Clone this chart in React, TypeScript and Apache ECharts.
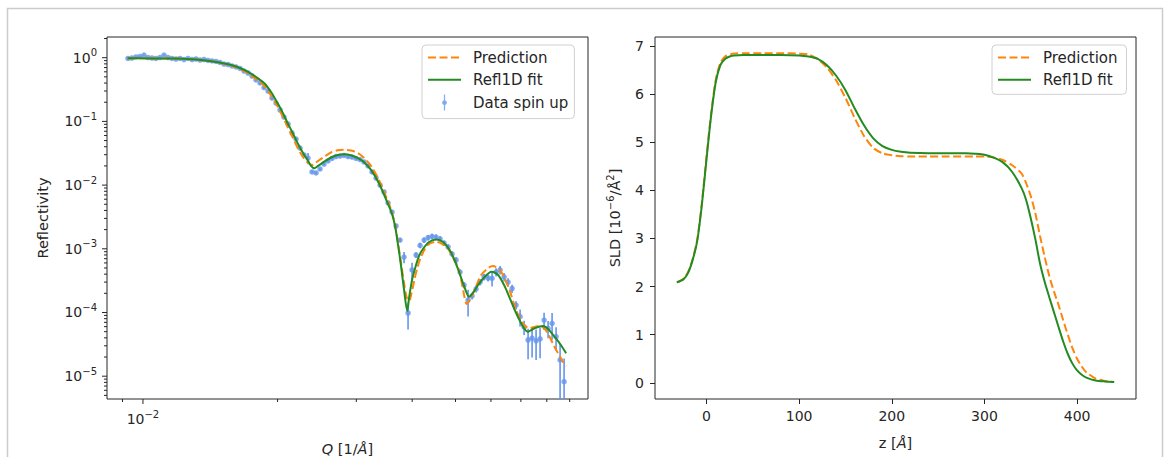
import React, { useEffect, useRef } from 'react';
import * as echarts from 'echarts';

const FONT = 'DejaVu Sans';
const INK = '#262626';
const C_PRED = '#ff850a';
const C_FIT = '#228b22';
const C_DATA = '#6495ed';

// ---------- Reflectivity: measured data (spin up) ----------
const dataQ = [0.009257,0.009450,0.009647,0.009848,0.010053,0.010262,0.010476,0.010694,0.010917,0.011144,0.011376,0.011613,0.011855,0.012102,0.012354,0.012611,0.012873,0.013141,0.013415,0.013694,0.013979,0.014270,0.014567,0.014870,0.015180,0.015496,0.015818,0.016148,0.016484,0.016827,0.017177,0.017535,0.017900,0.018272,0.018653,0.019041,0.019437,0.019842,0.020255,0.020676,0.021107,0.021546,0.021995,0.022452,0.022920,0.023397,0.023884,0.024381,0.024888,0.025406,0.025935,0.026475,0.027026,0.027589,0.028163,0.028749,0.029347,0.029958,0.030582,0.031218,0.031868,0.032531,0.033208,0.033899,0.034605,0.035325,0.036060,0.036811,0.037577,0.038359,0.039157,0.039972,0.040804,0.041654,0.042521,0.043406,0.044309,0.045231,0.046173,0.047134,0.048115,0.049116,0.050138,0.051182,0.052247,0.053335,0.054445,0.055578,0.056735,0.057916,0.059121,0.060352,0.061608,0.062890,0.064199,0.065535,0.066899,0.068292,0.069713,0.071164,0.072645,0.074157,0.075701,0.077276,0.078885,0.080527,0.082203,0.083914,0.085660,0.087443];
const dataR = [0.972,0.989,1.026,1.044,1.102,1.007,0.989,0.972,1.007,1.102,1.007,0.972,0.954,0.972,0.937,0.972,0.937,0.954,0.920,0.937,0.904,0.888,0.872,0.841,0.796,0.782,0.741,0.715,0.677,0.618,0.575,0.516,0.447,0.401,0.340,0.300,0.233,0.194,0.151,0.117,0.0910,0.0658,0.0529,0.0382,0.0297,0.0266,0.0161,0.0155,0.0179,0.0214,0.0239,0.0262,0.0281,0.0286,0.0292,0.0281,0.0276,0.0262,0.0252,0.0231,0.0200,0.0161,0.0129,0.0100,0.00779,0.00524,0.00378,0.00228,0.00137,0.000743,0.0000982,0.000465,0.000799,0.00113,0.00137,0.00150,0.00156,0.00153,0.00143,0.00123,0.00107,0.000829,0.000667,0.000432,0.000270,0.000157,0.000182,0.000234,0.000301,0.000361,0.000348,0.000342,0.000432,0.000465,0.000361,0.000301,0.000238,0.000131,0.0000859,0.0000592,0.0000370,0.0000395,0.0000360,0.0000385,0.0000762,0.0000565,0.0000677,0.0000417,0.0000180,0.0000082];
const dataErr = [0.029,0.030,0.031,0.031,0.033,0.030,0.030,0.029,0.030,0.033,0.030,0.029,0.029,0.029,0.028,0.029,0.028,0.029,0.028,0.028,0.027,0.027,0.026,0.025,0.024,0.023,0.022,0.021,0.020,0.019,
  0.029,0.026,0.022,0.020,0.017,0.015,0.012,0.0097,0.0076,0.0059,0.0046,0.0033,0.0026,0.0019,0.0015,
  0.0053,
  0.0008,0.0008,0.0009,0.0011,0.0012,0.0013,0.0014,0.0014,0.0015,0.0014,0.0014,0.0013,0.0013,0.0012,
  0.0014,0.0011,0.0009,0.0007,0.00055,0.00037,0.00026,0.00016,0.000096,
  0.000149,0.0000442,0.00014,
  0.00008,0.000113,0.000137,0.00015,0.000156,0.000153,0.000143,0.000123,0.000107,0.000083,0.000067,0.000043,
  0.0000324,0.0000707,
  0.0000218,0.0000281,0.0000361,0.0000433,0.0000418,
  0.0000855,
  0.0000648,0.0000698,0.0000542,0.0000452,0.0000357,0.0000197,
  0.0000258,0.0000148,
  0.0000185,0.0000198,0.000018,0.0000193,
  0.0000229,0.000017,0.0000305,0.0000167,0.0000144,0.0000107];

// ---------- Reflectivity: Refl1D fit ----------
const fitQ = [0.00924,0.01042,0.01173,0.01281,0.01348,0.01457,0.01574,0.01657,0.01715,0.01790,0.01868,0.01934,0.02001,0.02056,0.02107,0.02165,0.02218,0.02280,0.02335,0.02376,0.02416,0.02463,0.02544,0.02633,0.02726,0.02823,0.02919,0.03026,0.03115,0.03236,0.03370,0.03527,0.03606,0.03662,0.03719,0.03777,0.03836,0.03900,0.03936,0.03997,0.04062,0.04144,0.04226,0.04363,0.04535,0.04690,0.04850,0.04963,0.05093,0.05225,0.05362,0.05487,0.05616,0.05792,0.06021,0.06226,0.06447,0.06622,0.06891,0.07255,0.07494,0.07838,0.08055,0.08321,0.08568,0.08837];
const fitR = [0.978,0.975,0.968,0.947,0.920,0.856,0.768,0.677,0.603,0.498,0.397,0.289,0.192,0.135,0.0934,0.0646,0.0453,0.0319,0.0248,0.0200,0.0184,0.0200,0.0233,0.0271,0.0297,0.0305,0.0294,0.0266,0.0233,0.0173,0.0107,0.00518,0.00352,0.00228,0.00115,0.000537,0.000226,0.000106,0.000169,0.000324,0.000500,0.000771,0.000993,0.00128,0.00140,0.00128,0.000958,0.000692,0.000432,0.000261,0.000177,0.000210,0.000270,0.000354,0.000437,0.000388,0.000254,0.000163,0.0000859,0.0000499,0.0000561,0.0000614,0.0000551,0.0000417,0.0000320,0.0000229];

// ---------- Reflectivity: prediction ----------
const predQ = [0.00924,0.01042,0.01173,0.01281,0.01348,0.01457,0.01574,0.01657,0.01715,0.01790,0.01868,0.01934,0.02001,0.02056,0.02107,0.02165,0.02218,0.02280,0.02335,0.02394,0.02463,0.02544,0.02633,0.02726,0.02823,0.02919,0.03026,0.03115,0.03236,0.03370,0.03527,0.03606,0.03662,0.03719,0.03777,0.03836,0.03886,0.03936,0.03987,0.04045,0.04112,0.04187,0.04334,0.04524,0.04654,0.04805,0.04925,0.05059,0.05159,0.05234,0.05293,0.05376,0.05465,0.05587,0.05704,0.05904,0.06058,0.06322,0.06599,0.06831,0.07070,0.07315,0.07494,0.07702,0.07870,0.08042,0.08321,0.08524,0.08688,0.08837];
const predR = [0.978,0.975,0.968,0.947,0.920,0.856,0.754,0.653,0.575,0.463,0.360,0.255,0.171,0.117,0.0817,0.0549,0.0382,0.0276,0.0226,0.0207,0.0239,0.0279,0.0325,0.0352,0.0358,0.0349,0.0319,0.0271,0.0200,0.0120,0.00563,0.00365,0.00236,0.00123,0.000598,0.000290,0.000175,0.000152,0.000202,0.000324,0.000518,0.000752,0.00115,0.00129,0.00121,0.00102,0.000743,0.000524,0.000301,0.000177,0.000136,0.000157,0.000195,0.000280,0.000388,0.000494,0.000537,0.000437,0.000226,0.000109,0.0000677,0.0000565,0.0000592,0.0000614,0.0000571,0.0000471,0.0000290,0.0000215,0.0000169,0.0000145];

// ---------- SLD profile ----------
const zValues = [-32,-25,-20,-15,-10,-5,0,5,10,15,20,25,30,40,60,80,100,110,120,130,140,150,160,170,180,190,200,210,220,240,260,280,290,300,310,320,330,340,345,350,355,360,365,370,375,380,385,390,395,400,405,410,420,430,440];
const sldFit = [2.09,2.15,2.28,2.55,2.95,3.70,4.65,5.55,6.25,6.60,6.73,6.78,6.80,6.81,6.81,6.81,6.80,6.78,6.73,6.60,6.38,6.08,5.70,5.35,5.08,4.92,4.84,4.80,4.78,4.77,4.77,4.77,4.76,4.74,4.68,4.58,4.38,4.05,3.80,3.42,2.98,2.48,2.10,1.78,1.47,1.16,0.86,0.60,0.40,0.26,0.17,0.11,0.05,0.03,0.02];
const sldPred = [2.09,2.16,2.30,2.57,2.98,3.74,4.70,5.60,6.30,6.65,6.78,6.82,6.84,6.85,6.85,6.85,6.84,6.82,6.73,6.55,6.28,5.92,5.50,5.13,4.88,4.77,4.73,4.71,4.70,4.70,4.70,4.70,4.70,4.70,4.68,4.63,4.52,4.35,4.15,3.88,3.52,3.05,2.62,2.22,1.90,1.62,1.30,1.00,0.72,0.50,0.34,0.22,0.09,0.04,0.02];

// ---------- ticks ----------
const refYMajor = [1e-5, 1e-4, 1e-3, 1e-2, 1e-1, 1];
const refYMinor = [5e-6,6e-6,7e-6,8e-6,9e-6,2e-5,3e-5,4e-5,5e-5,6e-5,7e-5,8e-5,9e-5,2e-4,3e-4,4e-4,5e-4,6e-4,7e-4,8e-4,9e-4,2e-3,3e-3,4e-3,5e-3,6e-3,7e-3,8e-3,9e-3,0.02,0.03,0.04,0.05,0.06,0.07,0.08,0.09,0.2,0.3,0.4,0.5,0.6,0.7,0.8,0.9,2];
const refXMajor = [0.01];
const refXMinor = [0.009,0.02,0.03,0.04,0.05,0.06,0.07,0.08,0.09];
const sldYTicks = [0,1,2,3,4,5,6,7];
const sldXTicks = [0,100,200,300,400];

const Q_MIN = 0.00831, Q_MAX = 0.0989;
const R_MIN = 4.385e-6, R_MAX = 2.113;
const Z_MIN = -55.6, Z_MAX = 463.6;
const S_MIN = -0.335, S_MAX = 7.185;

const ERR_ICON = 'path://M4.3,0H5.7V18H4.3Z M5,6.3A2.7,2.7 0 1 1 4.99,6.3Z';

function powLabel(v: number): string {
  const l = Math.log10(v);
  const e = Math.round(l);
  if (Math.abs(l - e) > 1e-6) return '';
  const exp = (e < 0 ? '\u2212' : '') + Math.abs(e);
  return `{b|10}{s|${exp}}`;
}

const supRich = {
  b: { fontFamily: FONT, fontSize: 14, color: INK, lineHeight: 20 },
  s: { fontFamily: FONT, fontSize: 10, color: INK, lineHeight: 11, verticalAlign: 'top' },
};

const nameRich = {
  a: { fontFamily: FONT, fontSize: 14.5, color: INK, lineHeight: 20 },
  i: { fontFamily: FONT, fontSize: 14.5, color: INK, lineHeight: 20, fontStyle: 'italic' },
  s: { fontFamily: FONT, fontSize: 10, color: INK, lineHeight: 11, verticalAlign: 'top' },
};

export default function App() {
  const ref = useRef<HTMLDivElement | null>(null);

  useEffect(() => {
    if (!ref.current) return;
    const chart = echarts.init(ref.current, undefined, { renderer: 'svg' });

    const tickItems = [
      ...refYMajor.map((v) => [Q_MIN, v, 0]),
      ...refYMinor.map((v) => [Q_MIN, v, 1]),
      ...refXMajor.map((v) => [v, R_MIN, 2]),
      ...refXMinor.map((v) => [v, R_MIN, 3]),
    ];

    const hideSymbol = { opacity: 0 };

    const legendCommon = {
      orient: 'vertical',
      itemWidth: 33,
      itemHeight: 16,
      itemGap: 7.3,
      selectedMode: false,
      backgroundColor: 'rgba(255,255,255,0.8)',
      borderColor: '#d0d0d0',
      borderWidth: 1,
      borderRadius: 4,
      textStyle: { fontFamily: FONT, fontSize: 15, color: INK, padding: [0, 0, 0, 7] },
    };

    const option: any = {
      animation: false,
      backgroundColor: '#ffffff',
      graphic: [
        {
          type: 'rect',
          silent: true,
          z: -10,
          shape: { x: 7.5, y: 8.5, width: 1155, height: 480 },
          style: { fill: 'none', stroke: '#cccccc', lineWidth: 1.5 },
        },
      ],
      grid: [
        { left: 107, top: 37, width: 481, height: 362, show: true, borderColor: INK, borderWidth: 1, backgroundColor: 'transparent', containLabel: false, outerBoundsMode: 'none' },
        { left: 655, top: 37, width: 481, height: 362, show: true, borderColor: INK, borderWidth: 1, backgroundColor: 'transparent', containLabel: false, outerBoundsMode: 'none' },
      ],
      legend: [
        {
          ...legendCommon,
          left: 422,
          top: 45,
          padding: [5, 6, 8, 5],
          data: [
            { name: 'Prediction', itemStyle: hideSymbol },
            { name: 'Refl1D fit', itemStyle: hideSymbol },
            { name: 'Data spin up', icon: ERR_ICON },
          ],
        },
        {
          ...legendCommon,
          left: 992,
          top: 45,
          padding: [5, 9, 7, 5],
          data: [
            { name: 'Prediction', itemStyle: hideSymbol },
            { name: 'Refl1D fit', itemStyle: hideSymbol },
          ],
        },
      ],
      xAxis: [
        {
          type: 'log',
          logBase: 10,
          gridIndex: 0,
          min: Q_MIN,
          max: Q_MAX,
          axisLine: { show: false, onZero: false },
          axisTick: { show: false },
          minorTick: { show: false },
          splitLine: { show: false },
          minorSplitLine: { show: false },
          axisLabel: { formatter: powLabel, margin: 10, rich: supRich },
          name: '{i|Q}{a| [1/}{i|\u00c5}{a|]}',
          nameLocation: 'middle',
          nameGap: 40,
          nameMoveOverlap: false,
          nameTextStyle: { rich: nameRich },
        },
        {
          type: 'value',
          gridIndex: 1,
          min: Z_MIN,
          max: Z_MAX,
          axisLine: { show: false, onZero: false },
          axisTick: { show: true, customValues: sldXTicks, length: 5, lineStyle: { color: INK, width: 1 } },
          splitLine: { show: false },
          axisLabel: {
            customValues: sldXTicks,
            margin: 10,
            fontFamily: FONT,
            fontSize: 14,
            color: INK,
            formatter: (v: number) => (Math.abs(v % 100) < 1e-6 ? String(v) : ''),
          },
          name: '{a|z [}{i|\u00c5}{a|]}',
          nameLocation: 'middle',
          nameGap: 34,
          nameMoveOverlap: false,
          nameTextStyle: { rich: nameRich },
        },
      ],
      yAxis: [
        {
          type: 'log',
          logBase: 10,
          gridIndex: 0,
          min: R_MIN,
          max: R_MAX,
          axisLine: { show: false, onZero: false },
          axisTick: { show: false },
          minorTick: { show: false },
          splitLine: { show: false },
          minorSplitLine: { show: false },
          axisLabel: { formatter: powLabel, margin: 10, rich: supRich },
          name: 'Reflectivity',
          nameLocation: 'middle',
          nameRotate: 90,
          nameGap: 57,
          nameMoveOverlap: false,
          nameTextStyle: { fontFamily: FONT, fontSize: 14.5, color: INK },
        },
        {
          type: 'value',
          gridIndex: 1,
          min: S_MIN,
          max: S_MAX,
          axisLine: { show: false, onZero: false },
          axisTick: { show: true, customValues: sldYTicks, length: 5, lineStyle: { color: INK, width: 1 } },
          splitLine: { show: false },
          axisLabel: {
            customValues: sldYTicks,
            margin: 11,
            fontFamily: FONT,
            fontSize: 14,
            color: INK,
            formatter: (v: number) => (Math.abs(v - Math.round(v)) < 1e-6 ? String(v) : ''),
          },
          name: '{a|SLD [10}{s|\u22126}{a|/\u00c5}{s|2}{a|]}',
          nameLocation: 'middle',
          nameRotate: 90,
          nameGap: 30,
          nameMoveOverlap: false,
          nameTextStyle: { rich: nameRich },
        },
      ],
      series: [
        {
          type: 'custom',
          name: 'errorbars',
          xAxisIndex: 0,
          yAxisIndex: 0,
          z: 1,
          silent: true,
          clip: false,
          data: dataQ.map((q, i) => [q, dataR[i], dataErr[i]]),
          renderItem: (params: any, api: any) => {
            const q = api.value(0);
            const r = api.value(1);
            const e = api.value(2);
            const hi = Math.min(r + e, R_MAX);
            const lo = Math.max(r - e, R_MIN);
            const p1 = api.coord([q, hi]);
            const p2 = api.coord([q, lo]);
            return {
              type: 'line',
              shape: { x1: p1[0], y1: p1[1], x2: p2[0], y2: p2[1] },
              style: { stroke: C_DATA, lineWidth: 1.6 },
            };
          },
        },
        {
          type: 'scatter',
          name: 'Data spin up',
          xAxisIndex: 0,
          yAxisIndex: 0,
          z: 2,
          symbol: 'circle',
          symbolSize: 5.5,
          itemStyle: { color: C_DATA },
          data: dataQ.map((q, i) => [q, dataR[i]]),
        },
        {
          type: 'line',
          name: 'Prediction',
          xAxisIndex: 0,
          yAxisIndex: 0,
          z: 3,
          symbol: 'none',
          smooth: 0.3,
          lineStyle: { color: C_PRED, width: 2, type: [8, 3.5] },
          itemStyle: { color: C_PRED },
          data: predQ.map((q, i) => [q, predR[i]]),
        },
        {
          type: 'line',
          name: 'Refl1D fit',
          xAxisIndex: 0,
          yAxisIndex: 0,
          z: 4,
          symbol: 'none',
          smooth: 0.3,
          lineStyle: { color: C_FIT, width: 2 },
          itemStyle: { color: C_FIT },
          data: fitQ.map((q, i) => [q, fitR[i]]),
        },
        {
          type: 'line',
          name: 'Prediction',
          xAxisIndex: 1,
          yAxisIndex: 1,
          z: 3,
          symbol: 'none',
          smooth: 0.25,
          lineStyle: { color: C_PRED, width: 2, type: [8, 3.5] },
          itemStyle: { color: C_PRED },
          data: zValues.map((z, i) => [z, sldPred[i]]),
        },
        {
          type: 'line',
          name: 'Refl1D fit',
          xAxisIndex: 1,
          yAxisIndex: 1,
          z: 4,
          symbol: 'none',
          smooth: 0.25,
          lineStyle: { color: C_FIT, width: 2 },
          itemStyle: { color: C_FIT },
          data: zValues.map((z, i) => [z, sldFit[i]]),
        },
        {
          type: 'custom',
          name: 'logticks',
          xAxisIndex: 0,
          yAxisIndex: 0,
          z: 5,
          silent: true,
          clip: false,
          data: tickItems,
          renderItem: (params: any, api: any) => {
            const k = api.value(2);
            const p = api.coord([api.value(0), api.value(1)]);
            const len = k === 0 || k === 2 ? 5 : 3;
            if (k < 2) {
              return {
                type: 'line',
                shape: { x1: p[0] - len, y1: p[1], x2: p[0], y2: p[1] },
                style: { stroke: INK, lineWidth: 1 },
              };
            }
            return {
              type: 'line',
              shape: { x1: p[0], y1: p[1], x2: p[0], y2: p[1] + len },
              style: { stroke: INK, lineWidth: 1 },
            };
          },
        },
      ],
    };

    chart.setOption(option);
    return () => {
      chart.dispose();
    };
  }, []);

  return (
    <div
      ref={ref}
      style={{ position: 'absolute', left: 0, top: 0, width: 1170, height: 457 }}
    />
  );
}
